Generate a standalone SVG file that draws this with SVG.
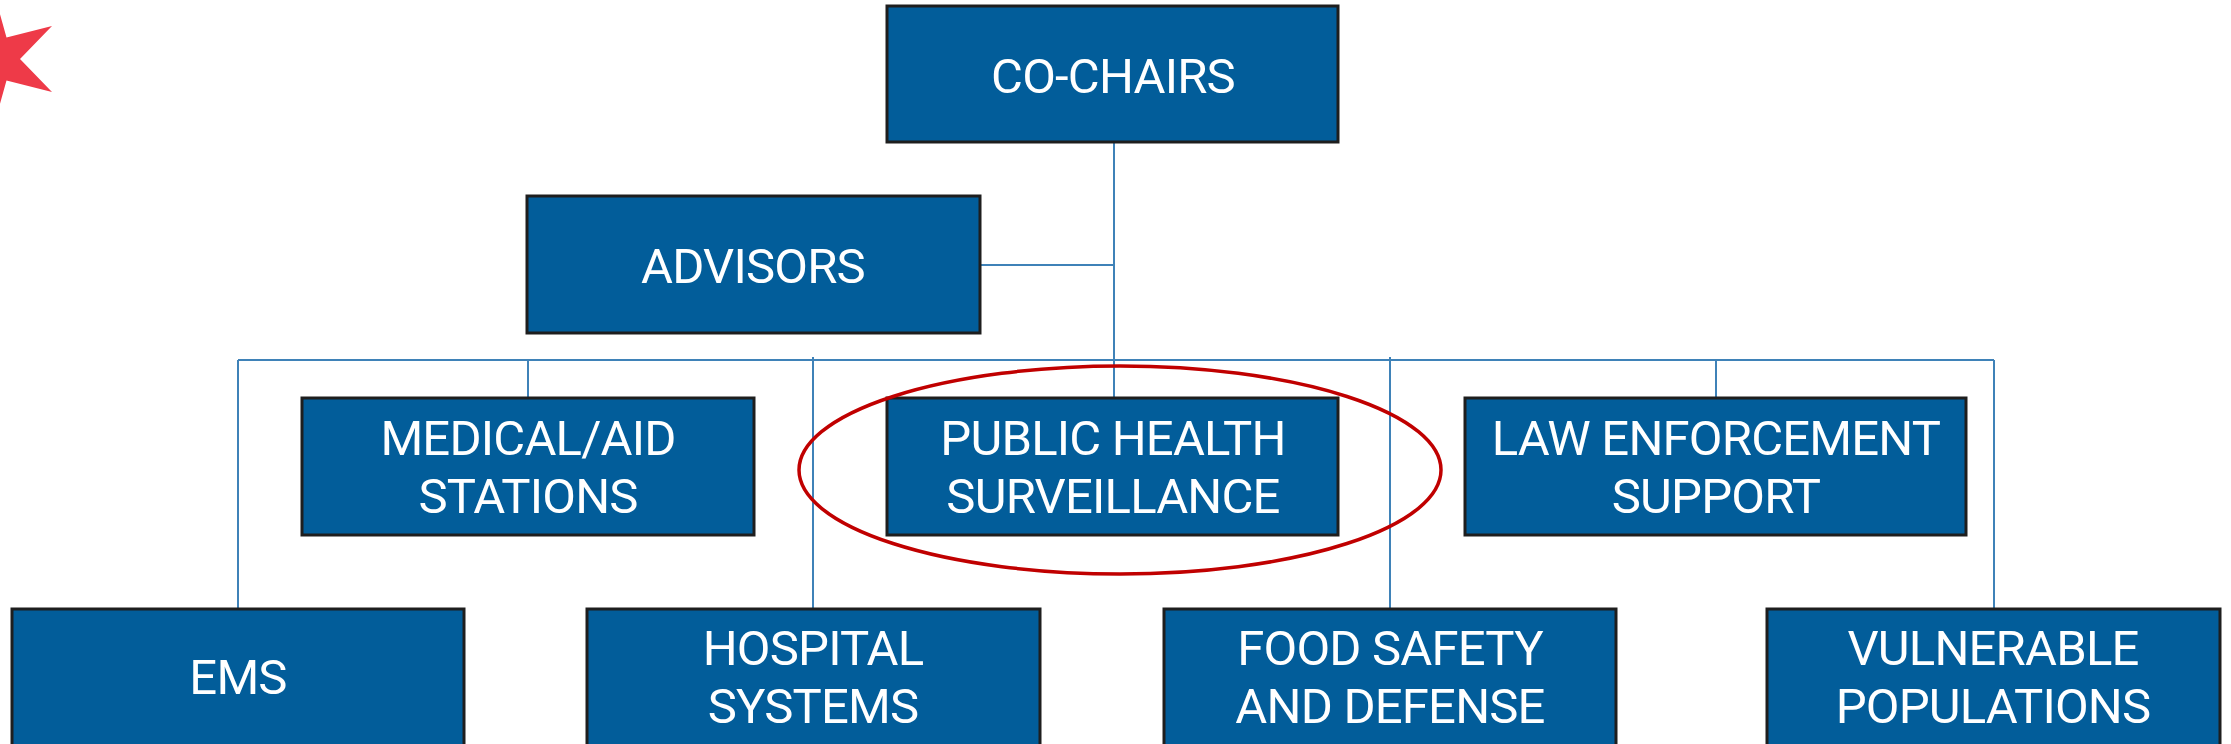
<svg xmlns="http://www.w3.org/2000/svg" width="2231" height="744" viewBox="0 0 2231 744">
<style>
.box{fill:#025D9A;stroke:#1E1E1E;stroke-width:3}
.lbl{font-family:Roboto,"Liberation Sans",sans-serif;font-size:49px;letter-spacing:-0.8px;fill:#FFFFFF;text-anchor:middle}
.ln{stroke:#3F82B8;stroke-width:2;fill:none}
</style>
<rect width="2231" height="744" fill="#FFFFFF"/>
<polygon id="star" fill="#EE3A48" points="-6,-7 6.5,37.5 52,26 20,59 52,92 6.5,80.5 -6,125 -18.5,80.5 -63,92 -31,59 -63,26 -18.5,37.5"/>
<g id="connectors">
<line class="ln" x1="1114" y1="142" x2="1114" y2="398"/>
<line class="ln" x1="980" y1="265" x2="1114" y2="265"/>
<line class="ln" x1="238" y1="360" x2="1994" y2="360"/>
<line class="ln" x1="238" y1="360" x2="238" y2="609"/>
<line class="ln" x1="528" y1="360" x2="528" y2="398"/>
<line class="ln" x1="813" y1="357" x2="813" y2="609"/>
<line class="ln" x1="1390" y1="357" x2="1390" y2="609"/>
<line class="ln" x1="1716" y1="360" x2="1716" y2="398"/>
<line class="ln" x1="1994" y1="360" x2="1994" y2="609"/>
</g>
<g id="co-chairs"><rect class="box" x="887" y="6" width="451" height="136"/><text class="lbl" x="1113" y="93">CO-CHAIRS</text></g>
<g id="advisors"><rect class="box" x="527" y="196" width="453" height="137"/><text class="lbl" x="753" y="283">ADVISORS</text></g>
<g id="medical"><rect class="box" x="302" y="398" width="452" height="137"/><text class="lbl" x="528" y="455">MEDICAL/AID</text><text class="lbl" x="528" y="513">STATIONS</text></g>
<g id="public-health"><rect class="box" x="887" y="398" width="451" height="137"/><text class="lbl" x="1113" y="455">PUBLIC HEALTH</text><text class="lbl" x="1113" y="513">SURVEILLANCE</text></g>
<g id="law"><rect class="box" x="1465" y="398" width="501" height="137"/><text class="lbl" x="1716" y="455">LAW ENFORCEMENT</text><text class="lbl" x="1716" y="513">SUPPORT</text></g>
<g id="ems"><rect class="box" x="12" y="609" width="452" height="150"/><text class="lbl" x="238" y="694">EMS</text></g>
<g id="hospital"><rect class="box" x="587" y="609" width="453" height="150"/><text class="lbl" x="813" y="665">HOSPITAL</text><text class="lbl" x="813" y="723">SYSTEMS</text></g>
<g id="food"><rect class="box" x="1164" y="609" width="452" height="150"/><text class="lbl" x="1390" y="665">FOOD SAFETY</text><text class="lbl" x="1390" y="723">AND DEFENSE</text></g>
<g id="vulnerable"><rect class="box" x="1767" y="609" width="453" height="150"/><text class="lbl" x="1993" y="665">VULNERABLE</text><text class="lbl" x="1993" y="723">POPULATIONS</text></g>
<ellipse id="highlight" cx="1120" cy="470" rx="321" ry="104" fill="none" stroke="#C00000" stroke-width="3.5"/>
</svg>
